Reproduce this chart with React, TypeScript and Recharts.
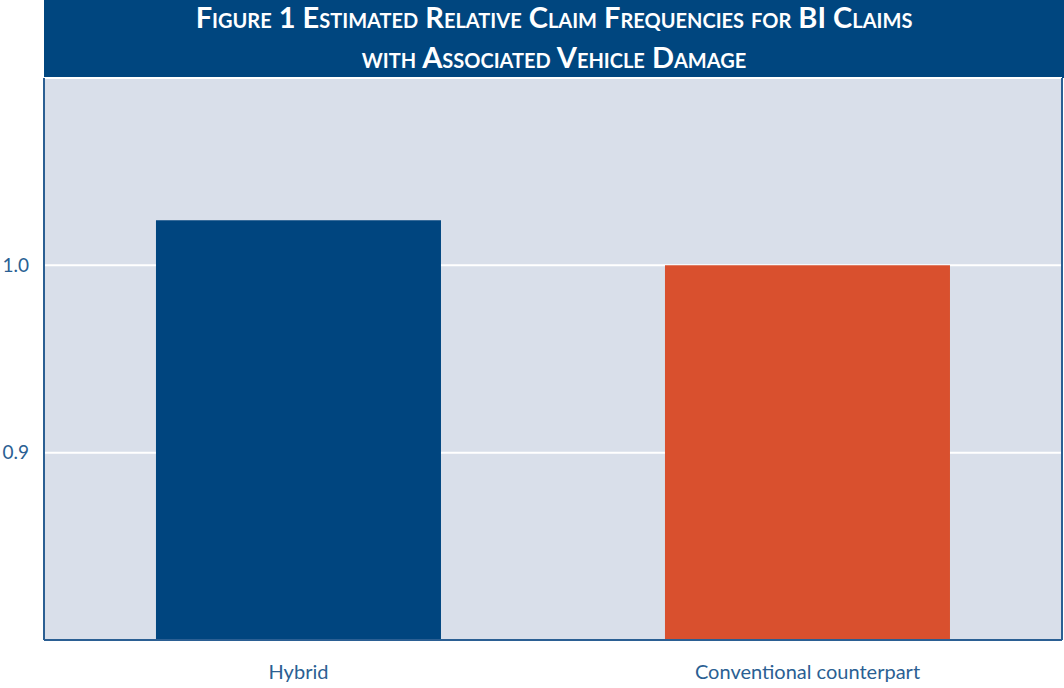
import React from 'react';
import { BarChart, Bar, XAxis, YAxis, CartesianGrid, Cell } from 'recharts';

const categories = ['Hybrid', 'Conventional counterpart'];
const frequencies = [1.024, 1.0];
const barColors = ['#00457F', '#D9502E'];
const yTicks = [0.9, 1.0];
const titleLines = ['Figure 1 Estimated Relative Claim Frequencies for BI Claims', 'with Associated Vehicle Damage'];

const data = categories.map((c, i) => ({ name: c, value: frequencies[i] }));

const textColor = '#2B5F93';
const font = 'Lato, "Open Sans", sans-serif';

export default function App() {
  return (
    <div style={{ position: 'absolute', left: 0, top: 0, width: 1064, height: 688, background: '#fff' }}>
      <div
        style={{
          position: 'absolute',
          left: 44,
          top: 0,
          width: 1020,
          height: 78,
          background: '#00467F',
          color: '#fff',
          fontFamily: font,
          fontWeight: 700,
          fontSize: 29,
          fontVariant: 'small-caps',
          textAlign: 'center',
          overflow: 'hidden',
        }}
      >
        {titleLines.map((t, i) => (
          <div
            key={i}
            style={{ position: 'absolute', left: 0, width: 1020, top: i === 0 ? -3 : 37, height: 40, lineHeight: '40px', whiteSpace: 'nowrap' }}
          >
            {t}
          </div>
        ))}
      </div>
      <BarChart
        width={1064}
        height={688}
        data={data}
        margin={{ top: 78, right: 1, left: 0, bottom: 0 }}
        barCategoryGap="22%"
      >
        <CartesianGrid vertical={false} fill="#D9DFEA" stroke="#FFFFFF" strokeWidth={2} />
        <XAxis
          dataKey="name"
          height={48}
          tickSize={0}
          tickMargin={25}
          axisLine={{ stroke: '#2B5F93', strokeWidth: 2 }}
          tick={{ fill: textColor, fontSize: 20, fontFamily: font }}
        />
        <YAxis
          domain={[0.8, 1.1]}
          ticks={yTicks}
          width={44}
          tickSize={0}
          tickMargin={15}
          tickFormatter={(v: number) => v.toFixed(1)}
          axisLine={{ stroke: '#2B5F93', strokeWidth: 2 }}
          tick={{ fill: textColor, fontSize: 19, fontFamily: font }}
        />
        <YAxis
          yAxisId="right"
          orientation="right"
          domain={[0.8, 1.1]}
          width={1}
          tick={false}
          tickSize={0}
          axisLine={{ stroke: '#2B5F93', strokeWidth: 2 }}
        />
        <Bar dataKey="value" isAnimationActive={false}>
          {data.map((d, i) => (
            <Cell key={d.name} fill={barColors[i]} />
          ))}
        </Bar>
      </BarChart>
    </div>
  );
}
